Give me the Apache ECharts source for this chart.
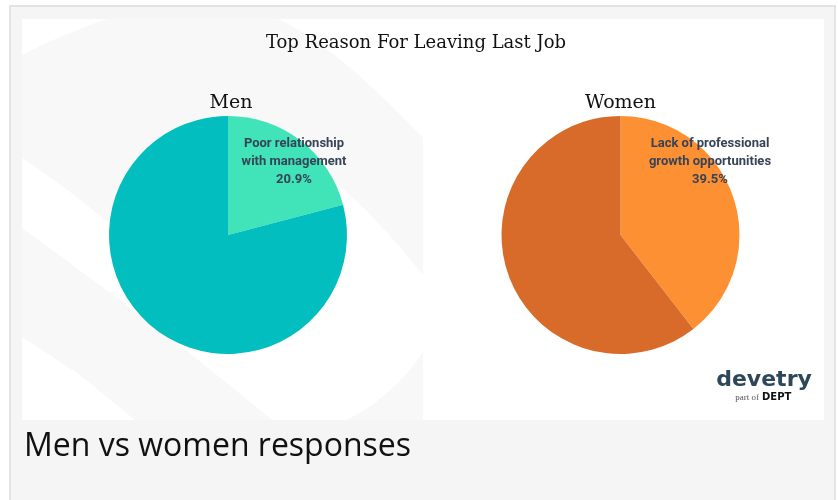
<!DOCTYPE html>
<html><head><meta charset="utf-8">
<script src="https://cdn.jsdelivr.net/npm/echarts@6/dist/echarts.min.js"></script>
<style>html,body{margin:0;padding:0;background:#fff;overflow:hidden;} #c{width:838px;height:500px;}</style>
</head><body><div id="c"></div>
<script>
// ---- data ----
const chartTitle = 'Top Reason For Leaving Last Job';
const groupNames = ['Men', 'Women'];
const menNames = ['Poor relationship\nwith management', 'Other reasons'];
const menValues = [20.9, 79.1];
const womenNames = ['Lack of professional\ngrowth opportunities', 'Other reasons'];
const womenValues = [39.5, 60.5];
const captionText = 'Men vs women responses';

// ---- styling / layout ----
const menColors = ['#41e3b9', '#03bebe'];
const womenColors = ['#fe9034', '#d86b29'];
const menCenter = [228, 235];
const womenCenter = [620.5, 235];
const pieRadius = 119;
const labelOffsets = [[66, -73], [89.5, -73]];

const chart = echarts.init(document.getElementById('c'), null, {renderer: 'canvas'});

function pieSeries(idx, names, values, colors, center) {
  return {
    type: 'pie',
    radius: pieRadius,
    center: center,
    startAngle: 90,
    clockwise: true,
    silent: true,
    animation: false,
    z: 2,
    itemStyle: {borderWidth: 0},
    emphasis: {disabled: true},
    label: {
      show: true,
      position: 'inside',
      formatter: p => p.name + '\n' + p.value.toFixed(1) + '%',
      fontFamily: 'Roboto',
      fontWeight: 'bold',
      fontSize: 13,
      lineHeight: 18,
      color: '#374357',
      align: 'center'
    },
    labelLine: {show: false},
    labelLayout: p => p.dataIndex === 0 ? {
      x: center[0] + labelOffsets[idx][0],
      y: center[1] + labelOffsets[idx][1],
      align: 'center',
      verticalAlign: 'middle'
    } : {},
    data: names.map((n, i) => ({
      name: n, value: values[i],
      itemStyle: {color: colors[i]},
      label: {show: i === 0}
    }))
  };
}

// decorative background bands (sampled curves)
function quad(p0, c, p1, n) {
  const pts = [];
  for (let i = 0; i <= n; i++) {
    const t = i / n, u = 1 - t;
    pts.push([u*u*p0[0] + 2*u*t*c[0] + t*t*p1[0], u*u*p0[1] + 2*u*t*c[1] + t*t*p1[1]]);
  }
  return pts;
}
const band1 = [].concat(
  quad([22, 55], [65, 33], [107, 19], 12),
  quad([278, 19], [335, 45], [423, 138], 16),
  quad([423, 275], [375, 215], [335, 182], 8),
  [[200, 232], [115, 228]],
  quad([115, 228], [70, 190], [22, 158], 8)
);
const band2 = [].concat([[22, 228]], quad([120, 300], [200, 360], [272, 420], 8), [[135, 420]], quad([80, 375], [50, 355], [22, 337], 6));
const band3 = [].concat(quad([347, 420], [395, 395], [423, 352], 10), [[423, 420]]);

const bg = [
  {type: 'rect', z: -30, shape: {x: 10, y: 6, width: 825, height: 510},
   style: {fill: '#f5f5f5', stroke: '#e3e3e3', lineWidth: 2}},
  {type: 'rect', z: -29, shape: {x: 22, y: 19, width: 802, height: 401}, style: {fill: '#ffffff'}},
  {type: 'polygon', z: -28, shape: {points: band1}, style: {fill: '#f8f8f8'}},
  {type: 'polygon', z: -28, shape: {points: band2}, style: {fill: '#f8f8f8'}},
  {type: 'polygon', z: -28, shape: {points: band3}, style: {fill: '#f8f8f8'}}
];

const texts = [
  {type: 'text', z: 10, x: 416, y: 43, style: {text: chartTitle, font: '18px "DejaVu Serif"', fill: '#111', textAlign: 'center', textVerticalAlign: 'middle'}},
  {type: 'text', z: 10, x: menCenter[0] + 3, y: 103, style: {text: groupNames[0], font: '19px "DejaVu Serif"', fill: '#111', textAlign: 'center', textVerticalAlign: 'middle'}},
  {type: 'text', z: 10, x: womenCenter[0], y: 103, style: {text: groupNames[1], font: '19px "DejaVu Serif"', fill: '#111', textAlign: 'center', textVerticalAlign: 'middle'}},
  {type: 'text', z: 10, x: 24, y: 447, style: {text: captionText, font: '32px "Open Sans"', fill: '#111', textAlign: 'left', textVerticalAlign: 'middle'}},
  {type: 'text', z: 10, x: 764, y: 380, style: {text: 'devetry', font: 'bold 22px "DejaVu Sans"', fill: '#2e4759', textAlign: 'center', textVerticalAlign: 'middle'}},
  {type: 'text', z: 10, x: 759, y: 398, style: {text: 'part of', font: '9px "Liberation Serif"', fill: '#555', textAlign: 'right', textVerticalAlign: 'middle'}},
  {type: 'text', z: 10, x: 762, y: 397, style: {text: 'DEPT', font: 'bold 10px "DejaVu Sans"', fill: '#111', textAlign: 'left', textVerticalAlign: 'middle'}}
];

chart.setOption({
  animation: false,
  graphic: {elements: bg.concat(texts)},
  series: [
    pieSeries(0, menNames, menValues, menColors, menCenter),
    pieSeries(1, womenNames, womenValues, womenColors, womenCenter)
  ]
});
</script></body></html>
